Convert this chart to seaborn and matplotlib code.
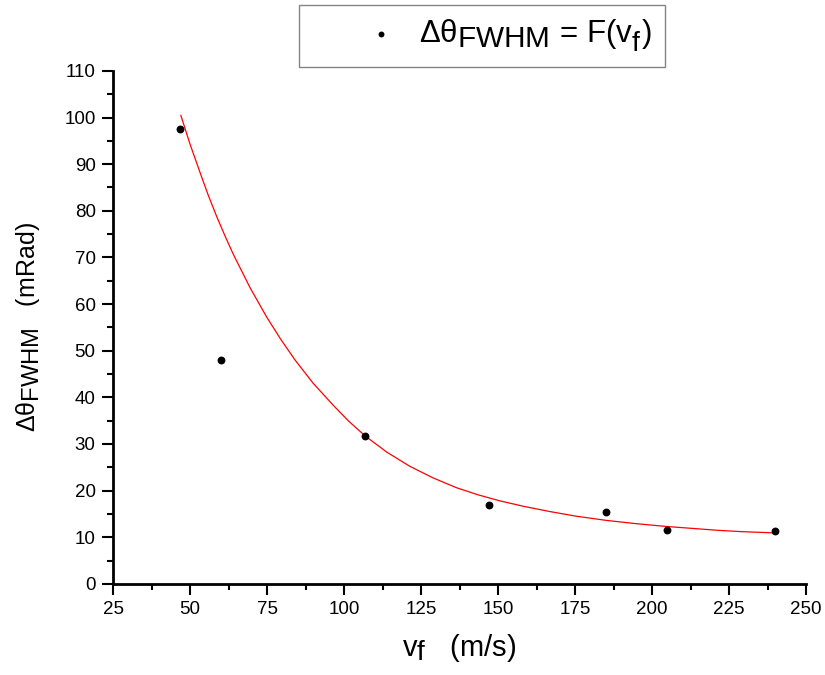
import matplotlib
matplotlib.use("Agg")
import matplotlib.pyplot as plt
import matplotlib._mathtext as mathtext_internals
import seaborn as sns
from matplotlib.ticker import MultipleLocator

sns.set_theme(style="ticks")
plt.rcParams["font.family"] = ["Liberation Sans", "DejaVu Sans"]
plt.rcParams["mathtext.fontset"] = "custom"
plt.rcParams["mathtext.rm"] = "Liberation Sans"
plt.rcParams["mathtext.it"] = "Liberation Sans"
plt.rcParams["mathtext.bf"] = "Liberation Sans:bold"
plt.rcParams["text.color"] = "black"
plt.rcParams["axes.labelcolor"] = "black"
# Origin-style subscripts are about as large as the base text
mathtext_internals.SHRINK_FACTOR = 0.95

# measured points: flight speed (m/s) vs angular FWHM (mRad)
v_f = [46.8, 60.0, 106.9, 147.0, 185.0, 204.9, 239.9]
dtheta = [97.6, 48.1, 31.7, 16.9, 15.4, 11.6, 11.4]

# exponential-decay fit curve
fit_v = [47.0, 50.0, 53.2, 56.0, 58.7, 61.5, 64.1, 69.5, 74.9, 79.5, 84.1, 90.0,
         96.5, 101.5, 106.9, 114.0, 121.4, 129.0, 136.6, 143.5, 150.6, 158.5,
         166.9, 175.5, 185.3, 195.0, 204.8, 213.0, 221.0, 229.0, 237.2, 240.0]
fit_dtheta = [100.5, 94.3, 88.3, 83.2, 78.7, 74.4, 70.6, 63.5, 57.2, 52.4, 48.0, 43.0,
              38.3, 34.9, 31.7, 28.2, 25.2, 22.7, 20.6, 19.1, 17.8, 16.6,
              15.5, 14.5, 13.6, 12.9, 12.3, 11.9, 11.5, 11.2, 11.0, 10.9]

fig = plt.figure(figsize=(8.25, 6.75), dpi=100)
ax = fig.add_axes([0.137, 0.135, 0.840, 0.760])

sns.lineplot(x=fit_v, y=fit_dtheta, ax=ax, color="#ff0000", linewidth=0.9,
             sort=False, estimator=None, legend=False)
sns.scatterplot(x=v_f, y=dtheta, ax=ax, color="black", s=32, edgecolor="black",
                linewidth=0, label=r"$\Delta\theta_{\mathrm{FWHM}}$ = F(v$_{_{\mathrm{f}}}$)",
                zorder=3)
ax.get_legend().remove()

ax.set_xlim(25, 250)
ax.set_ylim(0, 110)
ax.xaxis.set_major_locator(MultipleLocator(25))
ax.xaxis.set_minor_locator(MultipleLocator(12.5))
ax.yaxis.set_major_locator(MultipleLocator(10))
ax.yaxis.set_minor_locator(MultipleLocator(5))
ax.tick_params(which="major", length=8, width=1.5, labelsize=13.5, color="black",
               labelcolor="black", pad=4.5)
ax.tick_params(which="minor", length=4, width=1.5, color="black")

sns.despine(ax=ax)
for side in ["left", "bottom"]:
    ax.spines[side].set_linewidth(2)
    ax.spines[side].set_color("black")

ax.set_xlabel(r"v$_{\mathrm{f}}$   (m/s)", fontsize=21, labelpad=10)
ax.set_ylabel(r"$\Delta\theta_{\mathrm{FWHM}}$   (mRad)", fontsize=18, labelpad=16)

handles, labels = ax.get_legend_handles_labels()
leg = fig.legend(handles, labels, loc="center", bbox_to_anchor=(0.5842, 0.9467),
                 fontsize=22.5, frameon=True, fancybox=False, edgecolor="#666666",
                 borderpad=0.4, handletextpad=-1.0, handlelength=4.45,
                 markerscale=0.75)
leg.get_frame().set_linewidth(1.0)

fig.savefig("out.png", dpi=100)
